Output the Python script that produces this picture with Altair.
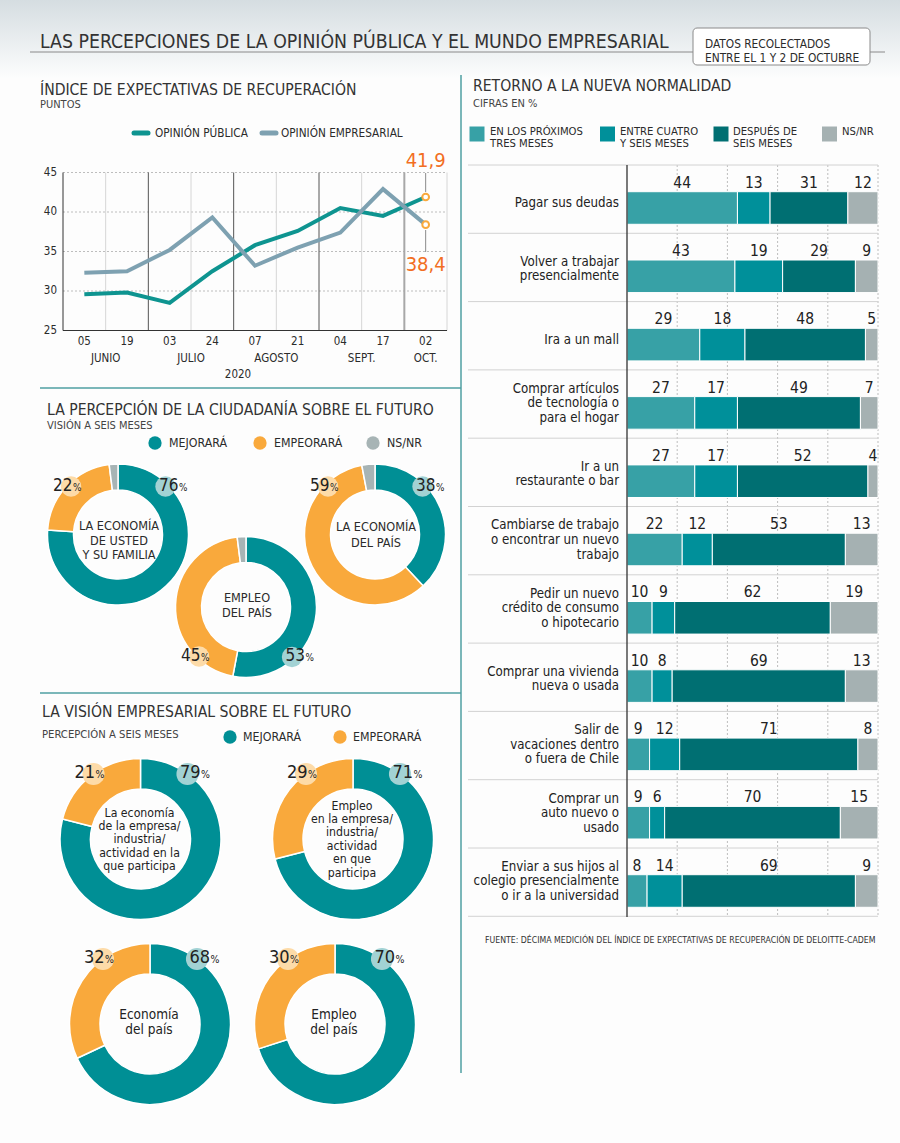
import math
import altair as alt
import pandas as pd

W, H = 900, 1143
FN = "Liberation Sans Narrow, DejaVu Sans Condensed, Roboto, sans-serif"
TXT = "#2b2b2b"
SEP = "#4f9fa2"

# ---------------- data ----------------
fechas = ["05", "19", "03", "24", "07", "21", "04", "17", "02"]
meses = ["JUNIO", "JULIO", "AGOSTO", "SEPT.", "OCT."]
mes_pos = [0.5, 2.5, 4.5, 6.5, 8]
opinion_publica = [29.6, 29.8, 28.5, 32.5, 35.8, 37.6, 40.5, 39.5, 41.9]
opinion_empresarial = [32.3, 32.5, 35.2, 39.3, 33.2, 35.5, 37.4, 42.9, 38.4]
series = ["OPINIÓN PÚBLICA", "OPINIÓN EMPRESARIAL"]
serie_colors = ["#0e9490", "#7ea1b1"]
y_ticks = [25, 30, 35, 40, 45]

categorias = [
    ["Pagar sus deudas"],
    ["Volver a trabajar", "presencialmente"],
    ["Ira a un mall"],
    ["Comprar artículos", "de tecnología o", "para el hogar"],
    ["Ir a un", "restaurante o bar"],
    ["Cambiarse de trabajo", "o encontrar un nuevo", "trabajo"],
    ["Pedir un nuevo", "crédito de consumo", "o hipotecario"],
    ["Comprar una vivienda", "nueva o usada"],
    ["Salir de", "vacaciones dentro", "o fuera de Chile"],
    ["Comprar un", "auto nuevo o", "usado"],
    ["Enviar a sus hijos al", "colegio presencialmente", "o ir a la universidad"],
]
en_tres_meses = [44, 43, 29, 27, 27, 22, 10, 10, 9, 9, 8]
cuatro_a_seis = [13, 19, 18, 17, 17, 12, 9, 8, 12, 6, 14]
despues_seis = [31, 29, 48, 49, 52, 53, 62, 69, 71, 70, 69]
ns_nr = [12, 9, 5, 7, 4, 13, 19, 13, 8, 15, 9]
segmentos = ["EN LOS PRÓXIMOS\nTRES MESES", "ENTRE CUATRO\nY SEIS MESES", "DESPUÉS DE\nSEIS MESES", "NS/NR"]
seg_colors = ["#37a1a6", "#00909a", "#006f72", "#a5b1b2"]

cat_donut = ["MEJORARÁ", "EMPEORARÁ", "NS/NR"]
donut_colors = ["#008f95", "#f9a93c", "#a7b4b5"]
ciud_titulos = [["LA ECONOMÍA", "DE USTED", "Y SU FAMILIA"], ["EMPLEO", "DEL PAÍS"], ["LA ECONOMÍA", "DEL PAÍS"]]
ciud_mejorara = [76, 53, 38]
ciud_empeorara = [22, 45, 59]
ciud_nsnr = [2, 2, 3]

emp_titulos = [["La economía", "de la empresa/", "industria/", "actividad en la", "que participa"],
               ["Empleo", "en la empresa/", "industria/", "actividad", "en que", "participa"],
               ["Economía", "del país"], ["Empleo", "del país"]]
emp_mejorara = [79, 71, 68, 70]
emp_empeorara = [21, 29, 32, 30]

# ---------------- helpers ----------------
one = pd.DataFrame({"o": [0]})
layers = []


def text(s, x, y, size, color=TXT, align="left", font=FN, weight="normal", baseline="middle"):
    return alt.Chart(one).mark_text(text=s, align=align, baseline=baseline, fontSize=size,
                                    font=font, color=color, fontWeight=weight).encode(
        x=alt.value(x), y=alt.value(y))


def hrule(x1, x2, y, color, w=1.0, cap="butt"):
    return alt.Chart(one).mark_rule(color=color, strokeWidth=w, strokeCap=cap).encode(
        x=alt.value(x1), x2=alt.value(x2), y=alt.value(y))


def vrule(x, y1, y2, color, w=1.0):
    return alt.Chart(one).mark_rule(color=color, strokeWidth=w).encode(
        x=alt.value(x), y=alt.value(y1), y2=alt.value(y2))


def dot(x, y, r, color):
    return alt.Chart(one).mark_circle(color=color, opacity=1, size=math.pi * r * r).encode(
        x=alt.value(x), y=alt.value(y))


# ---------------- header ----------------
grad = alt.Gradient(gradient="linear",
                    stops=[alt.GradientStop(color="#d5dde1", offset=0),
                           alt.GradientStop(color="#fcfdfd", offset=1)],
                    x1=0, x2=0, y1=0, y2=1)
layers.append(alt.Chart(one).mark_rect(color=grad).encode(
    x=alt.value(0), x2=alt.value(W), y=alt.value(0), y2=alt.value(78)))
layers.append(hrule(30, 885, 52, "#8a8a8a", 1))
layers.append(text("LAS PERCEPCIONES DE LA OPINIÓN PÚBLICA Y EL MUNDO EMPRESARIAL", 40, 48, 19.3,
                   color="#333", baseline="alphabetic"))
layers.append(alt.Chart(one).mark_rect(fill="white", stroke="#8a8a8a", strokeWidth=1, cornerRadius=4).encode(
    x=alt.value(693), x2=alt.value(870), y=alt.value(28), y2=alt.value(65)))
layers.append(text("DATOS RECOLECTADOS", 705, 47.5, 11.8, baseline="alphabetic"))
layers.append(text("ENTRE EL 1 Y 2 DE OCTUBRE", 705, 61.5, 11.8, baseline="alphabetic"))

# separators
layers.append(vrule(461, 75, 1073, SEP, 1.5))
layers.append(hrule(40, 461, 388, SEP, 1.5))
layers.append(hrule(40, 461, 693, SEP, 1.5))

TS = 15.6
# ---------------- line chart ----------------
layers.append(text("ÍNDICE DE EXPECTATIVAS DE RECUPERACIÓN", 40, 94.5, TS, color="#333", baseline="alphabetic"))
layers.append(text("PUNTOS", 40, 107.5, 11, color="#444", baseline="alphabetic"))
layers.append(hrule(134, 148, 133, serie_colors[0], 5, "round"))
layers.append(text(series[0], 155, 133, 11.7))
layers.append(hrule(262, 276, 133, serie_colors[1], 5, "round"))
layers.append(text(series[1], 281, 133, 11.7))

XS = alt.Scale(domain=[-0.5, 8.5], range=[63, 447], nice=False, zero=False)
YS = alt.Scale(domain=[25, 45], range=[330.5, 172.5], nice=False, zero=False)

grid_h = pd.DataFrame({"t": [30, 35, 40, 45]})
layers.append(alt.Chart(grid_h).mark_rule(color="#bdbdbd", strokeDash=[2, 2], strokeWidth=1).encode(
    y=alt.Y("t:Q", scale=YS, axis=None), x=alt.value(63), x2=alt.value(447)))


def vgrid(vals, color, w):
    return alt.Chart(pd.DataFrame({"b": vals})).mark_rule(color=color, strokeWidth=w).encode(
        x=alt.X("b:Q", scale=XS, axis=None), y=alt.value(172.5), y2=alt.value(330.5))


layers.append(vgrid([0.5, 2.5, 4.5, 6.5, 8.5], "#d6d6d6", 1))
layers.append(vgrid([1.5, 3.5, 5.5], "#555555", 1))
layers.append(vgrid([7.5], "#a8a8a8", 2))
layers.append(vgrid([-0.5], "#333333", 1))
layers.append(alt.Chart(pd.DataFrame({"t": [25]})).mark_rule(color="#333", strokeWidth=1).encode(
    y=alt.Y("t:Q", scale=YS, axis=None), x=alt.value(63), x2=alt.value(447)))

lc = pd.DataFrame({
    "i": list(range(9)) * 2,
    "v": opinion_publica + opinion_empresarial,
    "s": [series[0]] * 9 + [series[1]] * 9,
})
layers.append(alt.Chart(lc).mark_line(strokeWidth=4).encode(
    x=alt.X("i:Q", scale=XS, axis=None),
    y=alt.Y("v:Q", scale=YS, axis=None),
    color=alt.Color("s:N", scale=alt.Scale(domain=series, range=serie_colors), legend=None),
    detail="s:N"))

last = alt.Chart(lc).transform_filter("datum.i == 8")
layers.append(last.transform_filter(f"datum.s == '{series[0]}'").mark_rule(color="#8a8a8a", strokeWidth=1).encode(
    x=alt.X("i:Q", scale=XS, axis=None), y=alt.value(173), y2=alt.value(192)))
layers.append(last.transform_filter(f"datum.s == '{series[1]}'").mark_rule(color="#8a8a8a", strokeWidth=1).encode(
    x=alt.X("i:Q", scale=XS, axis=None), y=alt.value(230), y2=alt.value(252)))
layers.append(last.mark_point(shape="circle", filled=True, fill="white", stroke="#f9a93c",
                              strokeWidth=2, size=45, opacity=1).encode(
    x=alt.X("i:Q", scale=XS, axis=None), y=alt.Y("v:Q", scale=YS, axis=None)))
lab = last.transform_calculate(lbl="replace(format(datum.v, '.1f'), '.', ',')")
layers.append(lab.transform_filter(f"datum.s == '{series[0]}'").mark_text(
    fontSize=20, font=FN, color="#f26e22", align="center", baseline="middle").encode(
    x=alt.X("i:Q", scale=XS, axis=None), y=alt.value(161), text="lbl:N"))
layers.append(lab.transform_filter(f"datum.s == '{series[1]}'").mark_text(
    fontSize=20, font=FN, color="#f26e22", align="center", baseline="middle").encode(
    x=alt.X("i:Q", scale=XS, axis=None), y=alt.value(265), text="lbl:N"))

layers.append(alt.Chart(pd.DataFrame({"t": y_ticks})).mark_text(
    fontSize=11.5, font=FN, color=TXT, align="right", baseline="middle").encode(
    y=alt.Y("t:Q", scale=YS, axis=None), x=alt.value(57), text="t:Q"))
layers.append(alt.Chart(pd.DataFrame({"i": list(range(9)), "f": fechas})).mark_text(
    fontSize=11.5, font=FN, color=TXT, align="center", baseline="middle").encode(
    x=alt.X("i:Q", scale=XS, axis=None), y=alt.value(342), text="f:N"))
layers.append(alt.Chart(pd.DataFrame({"i": mes_pos, "m": meses})).mark_text(
    fontSize=11.5, font=FN, color=TXT, align="center", baseline="middle").encode(
    x=alt.X("i:Q", scale=XS, axis=None), y=alt.value(358.5), text="m:N"))
layers.append(text("2020", 238, 375, 11.5, align="center"))

# ---------------- donuts: ciudadania ----------------
layers.append(text("LA PERCEPCIÓN DE LA CIUDADANÍA SOBRE EL FUTURO", 47, 415, TS, color="#333", baseline="alphabetic"))
layers.append(text("VISIÓN A SEIS MESES", 47, 428.5, 11, color="#444", baseline="alphabetic"))
for cx, lbl, col in [(155, cat_donut[0], donut_colors[0]), (260, cat_donut[1], donut_colors[1]),
                     (373, cat_donut[2], donut_colors[2])]:
    layers.append(dot(cx, 443, 7.5, col))
    layers.append(text(lbl, cx + 14, 443, 12.3))


def donut(vals, cats, cx, cy, R, r):
    df = pd.DataFrame({"v": vals, "c": cats, "k": list(range(len(vals)))})
    return alt.Chart(df).mark_arc(radius=R, radius2=r, stroke="white", strokeWidth=1.5).encode(
        theta=alt.Theta("v:Q", stack=True, scale=alt.Scale(domain=[0, 100])),
        color=alt.Color("c:N", scale=alt.Scale(domain=cat_donut, range=donut_colors), legend=None),
        order=alt.Order("k:Q"),
        x=alt.value(cx), y=alt.value(cy))


def badge(val, bx, by, rb, light, right_side, size):
    xr = bx + 13 if right_side else bx + 1.5
    return [dot(bx, by, rb, light),
            text(str(val), xr, by - 1, size, color="#222", align="right"),
            text("%", xr + 0.5, by + 1, size * 0.58, color="#222", align="left")]


ciud_geo = [(118, 534.5, "top"), (246, 607, "bottom"), (375, 534.5, "top")]
for j, (cx, cy, pos) in enumerate(ciud_geo):
    layers.append(donut([ciud_mejorara[j], ciud_empeorara[j], ciud_nsnr[j]], cat_donut, cx, cy, 70.5, 44.5))
    if pos == "top":
        layers += badge(ciud_mejorara[j], cx + 47.5, cy - 48, 11.5, "#a2d2d4", True, 17)
        layers += badge(ciud_empeorara[j], cx - 47, cy - 48, 11.5, "#fddba8", False, 17)
    else:
        layers += badge(ciud_mejorara[j], cx + 46, cy + 50, 11.5, "#a2d2d4", True, 17)
        layers += badge(ciud_empeorara[j], cx - 47, cy + 49.5, 11.5, "#fddba8", False, 17)
    lines = ciud_titulos[j]
    if len(lines) == 3:
        y0, sp = cy - 8.5, 14.7
    elif j == 1:
        y0, sp = cy - 9, 14.7
    else:
        y0, sp = cy - 8, 16.5
    for n, s in enumerate(lines):
        layers.append(text(s, cx + 1, y0 + n * sp, 12.6, align="center"))

# ---------------- donuts: empresarial ----------------
layers.append(text("LA VISIÓN EMPRESARIAL SOBRE EL FUTURO", 42, 716.5, TS, color="#333", baseline="alphabetic"))
layers.append(text("PERCEPCIÓN A SEIS MESES", 42, 737.5, 11.2, color="#444", baseline="alphabetic"))
layers.append(dot(230, 737, 7.5, donut_colors[0]))
layers.append(text(cat_donut[0], 243, 737, 12.3))
layers.append(dot(340, 737, 7.5, donut_colors[1]))
layers.append(text(cat_donut[1], 353, 737, 12.3))

emp_geo = [(140.5, 839), (353, 839), (150, 1024), (335, 1024)]
for j, (cx, cy) in enumerate(emp_geo):
    layers.append(donut([emp_mejorara[j], emp_empeorara[j]], cat_donut[:2], cx, cy, 80.5, 50))
    layers += badge(emp_mejorara[j], cx + 47, cy - 65, 12.5, "#a2d2d4", True, 18)
    layers += badge(emp_empeorara[j], cx - 47, cy - 65, 12.5, "#fddba8", False, 18)
    lines = emp_titulos[j]
    sp = 13.4
    y0 = cy - (len(lines) - 1) * sp / 2 + (0.3 if len(lines) == 5 else 0)
    fs = 12.2
    if len(lines) == 2:
        y0 = cy - 9
        sp = 15
        fs = 13.5
    for n, s in enumerate(lines):
        layers.append(text(s, cx - 1, y0 + n * sp, fs, align="center", color="#222"))

# ---------------- stacked bars ----------------
layers.append(text("RETORNO A LA NUEVA NORMALIDAD", 473, 91, TS, color="#333", baseline="alphabetic"))
layers.append(text("CIFRAS EN %", 473, 107, 11, color="#444", baseline="alphabetic"))
for sx, lx, seg, col in [(469.5, 490, segmentos[0], seg_colors[0]), (600, 620, segmentos[1], seg_colors[1]),
                         (713.5, 733, segmentos[2], seg_colors[2]), (822, 842, segmentos[3], seg_colors[3])]:
    layers.append(alt.Chart(one).mark_rect(color=col).encode(
        x=alt.value(sx), x2=alt.value(sx + 15), y=alt.value(126.5), y2=alt.value(141.5)))
    for n, s in enumerate(seg.split("\n")):
        layers.append(text(s, lx, 131.5 + n * 12.8, 11.2))

BX = alt.Scale(domain=[0, 100], range=[627, 878], nice=False, zero=False)
BY = alt.Scale(domain=[0, 11], range=[165, 916.3], nice=False, zero=False)

layers.append(alt.Chart(pd.DataFrame({"g": [20, 40, 60, 80, 100]})).mark_rule(
    color="#bdbdbd", strokeDash=[2, 2], strokeWidth=1).encode(
    x=alt.X("g:Q", scale=BX, axis=None), y=alt.value(165), y2=alt.value(917)))
layers.append(alt.Chart(pd.DataFrame({"r": list(range(12))})).mark_rule(color="#d2d2d2", strokeWidth=1).encode(
    y=alt.Y("r:Q", scale=BY, axis=None), x=alt.value(468), x2=alt.value(878)))

rows = []
for r in range(11):
    for k, arr in enumerate([en_tres_meses, cuatro_a_seis, despues_seis, ns_nr]):
        rows.append({"r": r, "k": k, "seg": segmentos[k], "v": arr[r]})
bd = pd.DataFrame(rows)
bars = alt.Chart(bd).transform_stack(
    stack="v", groupby=["r"], as_=["x0", "x1"], sort=[alt.SortField("k", order="ascending")]
).transform_calculate(
    yt="datum.r + 0.391", yb="datum.r + 0.868", yl="datum.r + 0.259", xm="(datum.x0 + datum.x1) / 2")
layers.append(bars.mark_rect(stroke="white", strokeWidth=1).encode(
    x=alt.X("x0:Q", scale=BX, axis=None), x2="x1:Q",
    y=alt.Y("yt:Q", scale=BY, axis=None), y2="yb:Q",
    color=alt.Color("seg:N", scale=alt.Scale(domain=segmentos, range=seg_colors), legend=None)))
layers.append(bars.mark_text(fontSize=15.5, font=FN, color="#222", align="center", baseline="middle").encode(
    x=alt.X("xm:Q", scale=BX, axis=None), y=alt.Y("yl:Q", scale=BY, axis=None), text="v:Q"))
layers.append(alt.Chart(pd.DataFrame({"g": [0]})).mark_rule(color="#333", strokeWidth=1.3).encode(
    x=alt.X("g:Q", scale=BX, axis=None), y=alt.value(165), y2=alt.value(917)))

lab_rows = []
for r, lines in enumerate(categorias):
    for j, s in enumerate(lines):
        lab_rows.append({"r": r, "j": j, "n": len(lines), "t": s})
layers.append(alt.Chart(pd.DataFrame(lab_rows)).transform_calculate(
    yc="datum.r + (38 - (datum.n - 1) * 2.3 - (datum.n - 1) * 7.3 + datum.j * 14.6) / 68.3"
).mark_text(fontSize=13.2, font=FN, color="#222", align="right", baseline="middle").encode(
    x=alt.value(619), y=alt.Y("yc:Q", scale=BY, axis=None), text="t:N"))

layers.append(text("FUENTE: DÉCIMA MEDICIÓN DEL ÍNDICE DE EXPECTATIVAS DE RECUPERACIÓN DE DELOITTE-CADEM",
                   485, 940, 8.7, color="#333"))

chart = alt.layer(*layers).resolve_scale(
    x="independent", y="independent", color="independent", theta="independent"
).properties(width=W, height=H, padding=0, autosize=alt.AutoSizeParams(type="none"),
             background="#fdfdfd").configure_view(stroke=None)

chart.save("out.html", embed_options={"renderer": "svg", "actions": False})
